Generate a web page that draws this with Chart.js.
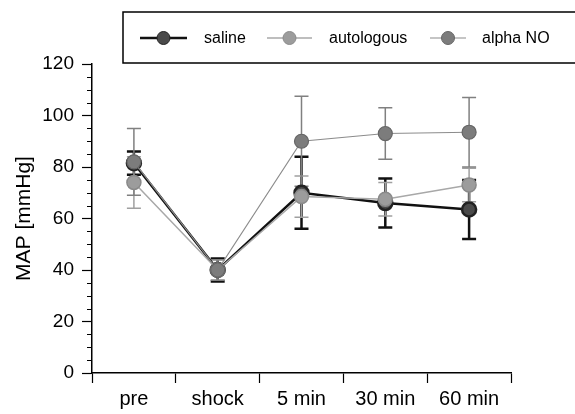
<!DOCTYPE html>
<html>
<head>
<meta charset="utf-8">
<script src="https://cdn.jsdelivr.net/npm/chart.js@4"></script>
<style>
  html, body { margin: 0; padding: 0; background: #fff; }
  #wrap { width: 575px; height: 414px; position: relative; }
</style>
</head>
<body>
<div id="wrap"><canvas id="chartMap"></canvas></div>
<script>
// data
const timepoints = ['pre', 'shock', '5 min', '30 min', '60 min'];
const yTicks = [0, 20, 40, 60, 80, 100, 120];

const salineMean = [81.5, 40, 70, 66, 63.5];
const salineSd = [4.5, 4.5, 14, 9.5, 11.5];
const autologousMean = [74, 40, 68.5, 67.5, 73];
const autologousSd = [10, 4, 8, 6.5, 6.5];
const alphaNoMean = [82, 40, 90, 93, 93.5];
const alphaNoSd = [13, 4, 17.5, 10, 13.5];

const FONT = 'Liberation Sans, Arial, sans-serif';

// error bars, drawn from the scales
const errorBars = {
    id: 'errorBars',
    beforeDatasetsDraw(chart) {
        const ctx = chart.ctx;
        const x = chart.scales.x, y = chart.scales.y;
        chart.data.datasets.forEach(ds => {
            ctx.save();
            ctx.strokeStyle = ds.errColor;
            ctx.lineWidth = ds.errWidth;
            ds.data.forEach((v, i) => {
                const px = x.getPixelForValue(i);
                const top = y.getPixelForValue(v + ds.sd[i]);
                const bot = y.getPixelForValue(v - ds.sd[i]);
                ctx.beginPath();
                ctx.moveTo(px, top); ctx.lineTo(px, bot);
                ctx.moveTo(px - 7, top); ctx.lineTo(px + 7, top);
                ctx.moveTo(px - 7, bot); ctx.lineTo(px + 7, bot);
                ctx.stroke();
            });
            ctx.restore();
        });
    }
};

// minor y ticks every 5
const minorTicks = {
    id: 'minorTicks',
    afterDraw(chart) {
        const ctx = chart.ctx;
        const y = chart.scales.y;
        const left = chart.chartArea.left;
        ctx.save();
        ctx.strokeStyle = '#000';
        ctx.lineWidth = 1;
        for (let v = 5; v < 120; v += 5) {
            if (v % 20 === 0) continue;
            const py = Math.round(y.getPixelForValue(v)) + 0.5;
            ctx.beginPath();
            ctx.moveTo(left - 5, py); ctx.lineTo(left, py);
            ctx.stroke();
        }
        ctx.restore();
    }
};

// boxed legend at the top
const boxLegend = {
    id: 'boxLegend',
    afterDraw(chart) {
        const ctx = chart.ctx;
        ctx.save();
        ctx.strokeStyle = '#000';
        ctx.lineWidth = 1.5;
        ctx.beginPath();
        ctx.moveTo(580, 12); ctx.lineTo(123, 12); ctx.lineTo(123, 63); ctx.lineTo(580, 63);
        ctx.stroke();
        const items = [
            { x1: 140, x2: 187, label: 'saline', tx: 204 },
            { x1: 267, x2: 312, label: 'autologous', tx: 329 },
            { x1: 430, x2: 466, label: 'alpha NO', tx: 482 }
        ];
        const cy = 38;
        items.forEach(it => {
            const ds = chart.data.datasets.find(d => d.label === it.label);
            ctx.strokeStyle = ds.borderColor;
            ctx.lineWidth = ds.borderWidth;
            ctx.beginPath();
            ctx.moveTo(it.x1, cy); ctx.lineTo(it.x2, cy);
            ctx.stroke();
            ctx.fillStyle = ds.pointBackgroundColor;
            ctx.strokeStyle = ds.pointBorderColor;
            ctx.lineWidth = 1;
            ctx.beginPath();
            ctx.arc((it.x1 + it.x2) / 2, cy, 6.5, 0, Math.PI * 2);
            ctx.fill(); ctx.stroke();
            ctx.fillStyle = '#000';
            ctx.font = '16px ' + FONT;
            ctx.textBaseline = 'middle';
            ctx.fillText(it.label, it.tx, cy + 1);
        });
        ctx.restore();
    }
};

new Chart(document.getElementById('chartMap').getContext('2d'), {
    type: 'line',
    data: {
        labels: timepoints,
        datasets: [
            { label: 'saline', data: salineMean, sd: salineSd, borderColor: '#111', borderWidth: 2.5,
              pointBackgroundColor: '#4a4a4a', pointBorderColor: '#222', pointRadius: 7,
              errColor: '#111', errWidth: 2.5, order: 3 },
            { label: 'autologous', data: autologousMean, sd: autologousSd, borderColor: '#a8a8a8', borderWidth: 1.5,
              pointBackgroundColor: '#9c9c9c', pointBorderColor: '#8a8a8a', pointRadius: 7,
              errColor: '#a0a0a0', errWidth: 1.5, order: 2 },
            { label: 'alpha NO', data: alphaNoMean, sd: alphaNoSd, borderColor: '#8c8c8c', borderWidth: 1.2,
              pointBackgroundColor: '#7c7c7c', pointBorderColor: '#666', pointRadius: 7,
              errColor: '#808080', errWidth: 1.5, order: 1 }
        ]
    },
    options: {
        responsive: true,
        maintainAspectRatio: false,
        animation: false,
        layout: { padding: { top: 64, right: 64, left: 12, bottom: 0 } },
        plugins: { legend: { display: false }, tooltip: { enabled: false } },
        scales: {
            x: {
                offset: true,
                afterFit: s => { s.height = 41; },
                grid: { offset: true, drawOnChartArea: false, drawTicks: true, tickLength: 10, color: '#000', tickWidth: 1.2 },
                border: { color: '#000', width: 1.5 },
                ticks: { color: '#000', font: { family: FONT, size: 20 }, padding: 4 }
            },
            y: {
                min: 0, max: 120,
                afterBuildTicks: s => { s.ticks = yTicks.map(v => ({ value: v })); },
                afterFit: s => { s.width = 80; },
                grid: { drawOnChartArea: false, drawTicks: true, tickLength: 10, color: '#000', tickWidth: 1.2 },
                border: { color: '#000', width: 1.5 },
                ticks: { color: '#000', font: { family: FONT, size: 19 }, padding: 8 },
                title: { display: true, text: 'MAP [mmHg]', color: '#000', font: { family: FONT, size: 21 }, padding: 0 }
            }
        }
    },
    plugins: [errorBars, minorTicks, boxLegend]
});
</script>
</body>
</html>
